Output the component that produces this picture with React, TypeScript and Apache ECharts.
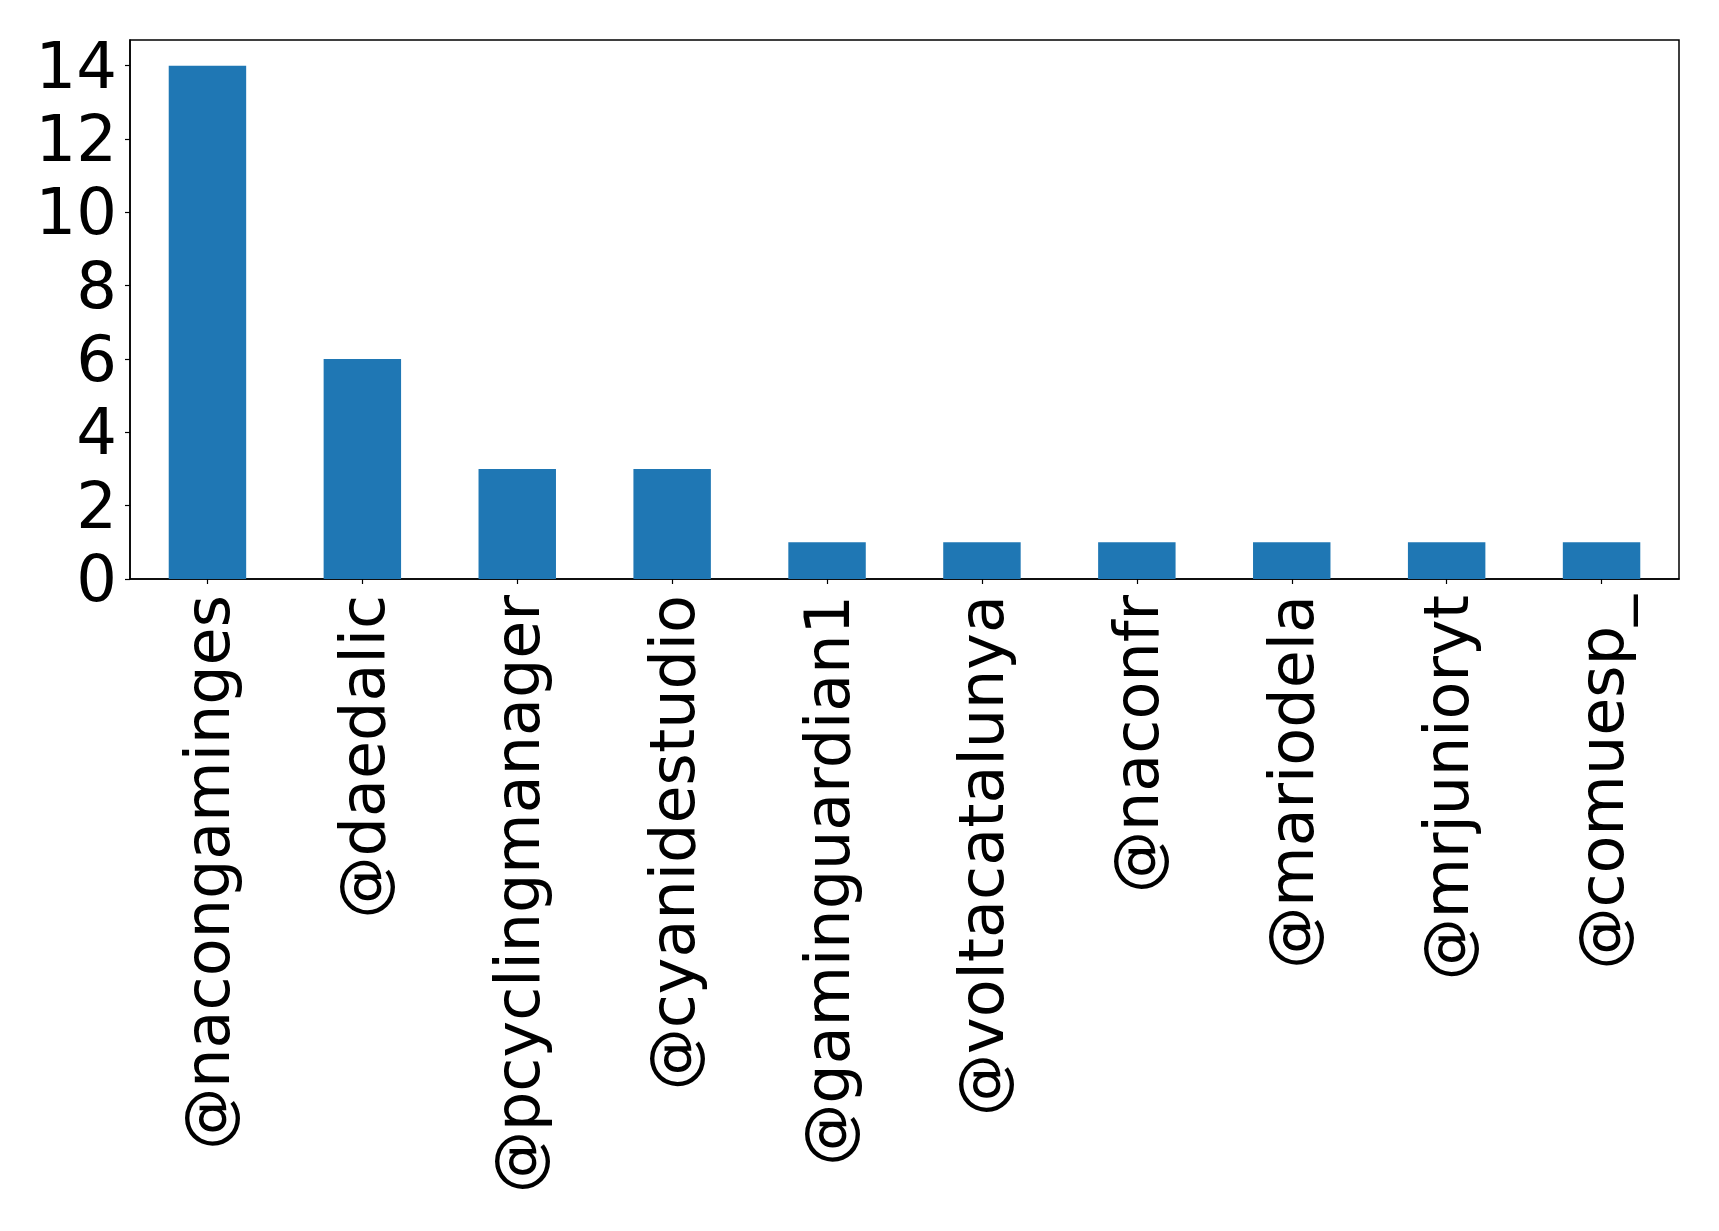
import React, { useEffect, useRef } from "react";
import * as echarts from "echarts";

const categories = [
  "@nacongaminges",
  "@daedalic",
  "@pcyclingmanager",
  "@cyanidestudio",
  "@gaminguardian1",
  "@voltacatalunya",
  "@naconfr",
  "@mariodela",
  "@mrjunioryt",
  "@comuesp_",
];
const counts = [14, 6, 3, 3, 1, 1, 1, 1, 1, 1];
const yTicks = [0, 2, 4, 6, 8, 10, 12, 14];

export default function App() {
  const ref = useRef<HTMLDivElement>(null);
  useEffect(() => {
    document.body.style.margin = "0";
    const chart = echarts.init(ref.current!, null, { renderer: "svg" });
    const font = "DejaVu Sans";
    chart.setOption({
      animation: false,
      backgroundColor: "#ffffff",
      grid: {
        left: 130,
        right: 40,
        top: 40,
        bottom: 652,
        containLabel: false,
        show: true,
        borderColor: "#000000",
        borderWidth: 1.5,
      },
      xAxis: {
        type: "category",
        data: categories,
        boundaryGap: true,
        axisLine: { show: true, lineStyle: { color: "#000", width: 1.5 } },
        axisTick: {
          show: true,
          alignWithLabel: true,
          length: 5,
          lineStyle: { color: "#000", width: 1.2 },
        },
        axisLabel: {
          rotate: 90,
          margin: 16,
          fontSize: 62,
          fontFamily: font,
          color: "#000",
          interval: 0,
        },
        splitLine: { show: false },
      },
      yAxis: {
        type: "value",
        min: 0,
        max: 14.7,
        interval: 2,
        axisLine: { show: true, lineStyle: { color: "#000", width: 1.5 } },
        axisTick: {
          show: true,
          length: 5,
          lineStyle: { color: "#000", width: 1.2 },
          customValues: yTicks,
        },
        axisLabel: {
          margin: 13,
          fontSize: 64,
          fontFamily: font,
          color: "#000",
          customValues: yTicks,
        },
        splitLine: { show: false },
      },
      series: [
        {
          type: "bar",
          data: counts,
          barWidth: "50%",
          itemStyle: { color: "#1f77b4" },
        },
      ],
    });
    return () => chart.dispose();
  }, []);
  return <div ref={ref} style={{ width: 1719, height: 1231 }} />;
}
